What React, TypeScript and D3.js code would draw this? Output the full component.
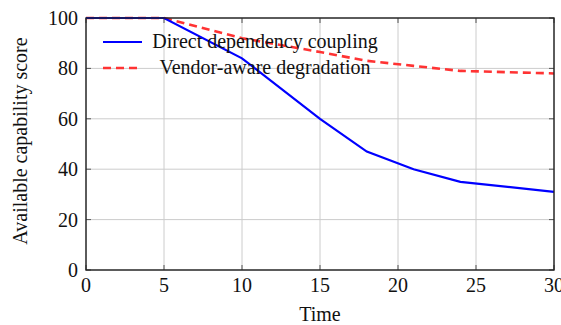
import React, { useRef, useEffect } from 'react';
import * as d3 from 'd3';

// data
const timePoints = [0, 5, 10, 15, 18, 21, 24, 30];
const directCoupling = [100, 100, 84, 60, 47, 40, 35, 31];
const vendorAware = [100, 100, 92, 86.5, 83, 81, 79, 78];
const xTicks = [0, 5, 10, 15, 20, 25, 30];
const yTicks = [0, 20, 40, 60, 80, 100];
const seriesNames = ['Direct dependency coupling', 'Vendor-aware degradation'];

const App = () => {
  const svgRef = useRef<SVGSVGElement>(null);
  const width = 561;
  const height = 325;

  useEffect(() => {
    d3.select(svgRef.current).selectAll('*').remove();

    const margin = { top: 18, right: 7, bottom: 55, left: 86 };
    const innerWidth = width - margin.left - margin.right;
    const innerHeight = height - margin.top - margin.bottom;
    const font = '"Liberation Serif", "Times New Roman", serif';

    const svg = d3.select(svgRef.current).attr('width', width).attr('height', height);
    const chart = svg.append('g').attr('transform', `translate(${margin.left},${margin.top})`);

    const xScale = d3.scaleLinear().domain([0, 30]).range([0, innerWidth]);
    const yScale = d3.scaleLinear().domain([0, 100]).range([innerHeight, 0]);

    // grid
    chart
      .selectAll('.vgrid')
      .data(xTicks)
      .enter()
      .append('line')
      .attr('x1', d => xScale(d))
      .attr('x2', d => xScale(d))
      .attr('y1', 0)
      .attr('y2', innerHeight)
      .attr('stroke', '#cccccc')
      .attr('stroke-width', 1);

    chart
      .selectAll('.hgrid')
      .data(yTicks)
      .enter()
      .append('line')
      .attr('x1', 0)
      .attr('x2', innerWidth)
      .attr('y1', d => yScale(d))
      .attr('y2', d => yScale(d))
      .attr('stroke', '#cccccc')
      .attr('stroke-width', 1);

    // inner tick marks on all sides
    const tickLen = 5;
    xTicks.forEach(t => {
      chart.append('line').attr('x1', xScale(t)).attr('x2', xScale(t))
        .attr('y1', innerHeight).attr('y2', innerHeight - tickLen)
        .attr('stroke', '#555').attr('stroke-width', 1);
      chart.append('line').attr('x1', xScale(t)).attr('x2', xScale(t))
        .attr('y1', 0).attr('y2', tickLen)
        .attr('stroke', '#555').attr('stroke-width', 1);
    });
    yTicks.forEach(t => {
      chart.append('line').attr('x1', 0).attr('x2', tickLen)
        .attr('y1', yScale(t)).attr('y2', yScale(t))
        .attr('stroke', '#555').attr('stroke-width', 1);
      chart.append('line').attr('x1', innerWidth).attr('x2', innerWidth - tickLen)
        .attr('y1', yScale(t)).attr('y2', yScale(t))
        .attr('stroke', '#555').attr('stroke-width', 1);
    });

    // tick labels
    chart
      .selectAll('.xlabel')
      .data(xTicks)
      .enter()
      .append('text')
      .attr('x', d => xScale(d))
      .attr('y', innerHeight + 22)
      .attr('text-anchor', 'middle')
      .attr('font-family', font)
      .attr('font-size', '20px')
      .attr('fill', '#111')
      .text(d => d);

    chart
      .selectAll('.ylabel')
      .data(yTicks)
      .enter()
      .append('text')
      .attr('x', -8)
      .attr('y', d => yScale(d) + 7)
      .attr('text-anchor', 'end')
      .attr('font-family', font)
      .attr('font-size', '20px')
      .attr('fill', '#111')
      .text(d => d);

    // lines
    const line = d3
      .line<number>()
      .x((d, i) => xScale(timePoints[i]))
      .y(d => yScale(d));

    chart
      .append('path')
      .datum(vendorAware)
      .attr('d', line)
      .attr('fill', 'none')
      .attr('stroke', '#ff3333')
      .attr('stroke-width', 2.6)
      .attr('stroke-dasharray', '8,5');

    chart
      .append('path')
      .datum(directCoupling)
      .attr('d', line)
      .attr('fill', 'none')
      .attr('stroke', '#0000ff')
      .attr('stroke-width', 2.2);

    // frame
    chart
      .append('rect')
      .attr('width', innerWidth)
      .attr('height', innerHeight)
      .attr('fill', 'none')
      .attr('stroke', '#222')
      .attr('stroke-width', 1.4);

    // legend (no box)
    const legend = svg.append('g');
    const legendRows = [
      { name: seriesNames[0], color: '#0000ff', dash: null, width: 2.2, y: 42 },
      { name: seriesNames[1], color: '#ff3333', dash: '8,5', width: 2.6, y: 68 },
    ];
    legendRows.forEach(r => {
      legend
        .append('line')
        .attr('x1', 103)
        .attr('x2', 142)
        .attr('y1', r.y)
        .attr('y2', r.y)
        .attr('stroke', r.color)
        .attr('stroke-width', r.width)
        .attr('stroke-dasharray', r.dash);
      legend
        .append('text')
        .attr('x', 265)
        .attr('y', r.y + 6)
        .attr('text-anchor', 'middle')
        .attr('font-family', font)
        .attr('font-size', '20px')
        .attr('fill', '#111')
        .text(r.name);
    });

    // axis titles
    svg
      .append('text')
      .attr('x', margin.left + innerWidth / 2)
      .attr('y', 321)
      .attr('text-anchor', 'middle')
      .attr('font-family', font)
      .attr('font-size', '20px')
      .attr('fill', '#111')
      .text('Time');

    svg
      .append('text')
      .attr('transform', 'rotate(-90)')
      .attr('x', -(margin.top + innerHeight / 2) + 3)
      .attr('y', 27)
      .attr('text-anchor', 'middle')
      .attr('font-family', font)
      .attr('font-size', '20px')
      .attr('fill', '#111')
      .text('Available capability score');
  }, []);

  return <svg ref={svgRef} style={{ position: 'absolute', left: 0, top: 0 }}></svg>;
};

export default App;
